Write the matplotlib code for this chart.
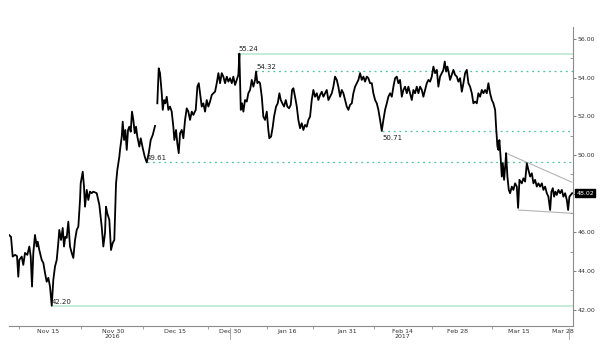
import numpy as np
import matplotlib
matplotlib.use("Agg")
import matplotlib.pyplot as plt

# trading-day position and price
day = [0.00, 0.36, 0.66, 1.07, 1.43, 1.66, 1.84, 2.27, 2.55, 2.86, 3.27, 3.63, 3.88, 4.11, 4.34, 4.64,
       4.95, 5.13, 5.41, 5.84, 6.13, 6.43, 6.73, 7.02, 7.32, 7.63, 7.91, 8.21, 8.52, 8.80, 8.98, 9.29,
       9.59, 9.82, 10.05, 10.30, 10.59, 10.89, 11.20, 11.48, 11.79, 12.09, 12.38, 12.68, 12.80, 13.16,
       13.39, 13.57, 13.88, 14.16, 14.46, 14.77, 15.05, 15.66, 16.13, 16.55, 16.84, 17.14, 17.32, 17.55,
       17.91, 18.21, 18.52, 18.80, 19.11, 19.34, 19.70, 19.82, 20.13, 20.30, 20.54, 20.77, 21.02, 21.25,
       21.48, 21.73, 21.96, 22.20, 22.45, 22.68, 22.91, 23.27, 23.52, 23.88, 24.23, 24.59, 24.95, 25.30,
       25.66, 26.07, 26.30,
       26.48, 26.73, 26.96, 27.27, 27.45, 27.68, 27.91, 28.16, 28.45, 28.75, 29.05, 29.34, 29.52, 29.82,
       30.05, 30.30, 30.54, 30.84, 31.13, 31.43, 31.73, 32.02, 32.32, 32.63, 32.91, 33.34, 33.63, 33.88,
       34.11, 34.41, 34.70, 35.00, 35.30, 35.59, 35.89, 36.20, 36.48, 36.79, 37.09, 37.38, 37.68, 37.98,
       38.27, 38.57, 38.88, 39.16, 39.46, 39.77, 40.05, 40.36, 40.66, 40.95, 41.13, 41.25, 41.38, 41.61,
       41.84, 42.14, 42.45, 42.73, 43.04, 43.34, 43.63, 43.93, 44.11, 44.34, 44.59, 44.82, 45.13, 45.41,
       45.71, 46.02, 46.30, 46.48, 46.79, 47.09, 47.32, 47.68, 47.98, 48.27, 48.52, 48.80, 49.11, 49.41,
       49.70, 50.00, 50.30, 50.54, 50.77, 51.07, 51.38, 51.66, 51.96, 52.27, 52.55, 52.86, 53.16, 53.45,
       53.75, 54.05, 54.34, 54.64, 54.95, 55.23, 55.54, 55.84, 56.13, 56.43, 56.73, 57.02, 57.32, 57.63,
       57.91, 58.21, 58.52, 58.80, 59.11, 59.41, 59.70, 60.00, 60.30, 60.59, 60.89, 61.20, 61.48, 61.79,
       62.09, 62.38, 62.68, 62.98, 63.27, 63.57, 63.88, 64.16, 64.46, 64.77, 65.05, 65.36, 65.66, 65.95,
       66.25, 66.55, 66.84, 67.14, 67.45, 67.73, 68.04, 68.34, 68.63, 68.93, 69.23, 69.52, 69.82, 70.13,
       70.41, 70.71, 71.02, 71.30, 71.61, 71.91, 72.20, 72.50, 72.80, 73.09, 73.39, 73.70, 73.98, 74.29,
       74.59, 74.88, 75.18, 75.48, 75.77, 76.07, 76.38, 76.66, 76.96, 77.27, 77.55, 77.80, 78.04, 78.27,
       78.52, 78.75, 79.05, 79.34, 79.64, 79.95, 80.23, 80.54, 80.84, 81.13, 81.43, 81.73, 82.02, 82.32,
       82.63, 82.91, 83.21, 83.52, 83.80, 84.11, 84.41, 84.70, 85.00, 85.30, 85.59, 85.89, 86.20, 86.48,
       86.79, 86.96, 87.20, 87.38, 87.55, 87.80, 87.98, 88.16, 88.39, 88.63, 88.75, 88.98, 89.23, 89.46,
       89.77, 90.05, 90.36, 90.66, 90.89, 91.13, 91.55, 91.84, 92.14, 92.45, 92.73, 93.04, 93.34, 93.63,
       93.93, 94.23, 94.52, 94.82, 95.13, 95.41, 95.71, 96.02, 96.30, 96.61, 96.84, 97.09, 97.32, 97.55,
       97.80, 98.09, 98.39, 98.70, 98.98, 99.29, 99.59, 99.82, 100.05, 100.30, 100.54]

price = [45.86, 45.76, 44.74, 44.83, 44.77, 43.70, 44.57, 44.74, 44.31, 44.93, 44.83, 45.26, 44.74, 43.19, 44.93, 45.86,
         45.26, 45.51, 45.08, 44.57, 44.41, 43.89, 43.44, 43.64, 43.19, 42.20, 43.53, 44.22, 44.57, 45.45, 46.12, 45.60,
         46.22, 45.26, 45.77, 45.71, 46.55, 45.26, 44.93, 44.67, 45.60, 46.12, 46.29, 47.67, 48.53, 49.13,
         48.36, 47.32, 48.19, 47.67, 48.10, 48.02, 48.10, 48.02, 47.41, 46.29, 45.26, 45.96, 47.32, 46.98,
         46.64, 45.08, 45.45, 45.60, 48.53, 49.22, 49.91, 50.26, 50.95, 51.72, 50.77, 51.29, 50.26, 51.29,
         51.46, 51.20, 52.24, 51.81, 51.12, 51.46, 50.95, 50.43, 50.86, 50.35, 49.91, 49.61, 50.09, 50.77,
         51.03, 51.50, np.nan,
         52.67, 54.48, 54.23, 53.19, 52.33, 52.84, 52.67, 53.01, 52.33, 52.50, 52.24, 51.46, 50.77, 51.29,
         50.60, 50.09, 51.12, 51.29, 50.86, 51.81, 52.41, 52.24, 51.81, 52.24, 52.07, 52.33, 53.53, 53.71,
         53.19, 52.50, 52.67, 52.24, 52.84, 52.50, 52.76, 53.10, 53.19, 53.27, 53.71, 54.23, 53.71, 54.23,
         54.05, 53.71, 54.05, 53.79, 53.97, 53.71, 54.05, 53.62, 53.88, 54.14, 55.24, 53.88, 52.33, 52.67,
         52.24, 52.84, 52.76, 53.19, 53.36, 53.88, 53.53, 53.88, 54.32, 53.71, 53.79, 53.71, 53.01, 51.98,
         51.81, 52.24, 51.29, 50.86, 50.95, 51.46, 51.98, 52.50, 52.67, 53.19, 52.84, 52.67, 52.50, 52.84,
         52.50, 52.41, 52.59, 53.36, 53.45, 53.01, 52.50, 51.81, 51.38, 51.64, 51.29, 51.55, 51.46, 51.81,
         51.98, 52.84, 53.36, 53.01, 53.19, 52.84, 53.10, 53.27, 53.01, 53.19, 53.36, 52.84, 53.01, 53.19,
         53.53, 54.05, 53.88, 53.53, 53.01, 53.36, 53.19, 52.84, 52.50, 52.33, 52.59, 52.67, 53.19, 53.53,
         53.71, 53.88, 54.23, 53.88, 54.05, 53.79, 54.05, 53.97, 53.71, 53.71, 53.19, 52.84, 52.67, 52.33,
         51.81, 51.24, 51.81, 52.33, 52.67, 53.01, 53.19, 53.01, 53.53, 53.97, 54.05, 53.71, 53.88, 53.01,
         53.36, 53.53, 53.19, 53.53, 53.19, 52.84, 53.36, 53.19, 53.53, 53.19, 53.53, 53.36, 53.01, 53.36,
         53.71, 53.88, 53.79, 54.05, 54.57, 54.23, 54.40, 53.53, 54.05, 54.23, 54.40, 54.83, 54.31, 54.57,
         54.23, 53.88, 54.14, 54.40, 54.14, 54.05, 53.79, 53.97, 53.27, 53.71, 54.23, 54.40, 53.71, 53.53,
         53.19, 52.67, 52.76, 52.67, 53.19, 53.01, 53.36, 53.19, 53.36, 53.19, 53.71, 53.19, 52.84, 52.67,
         52.33, 51.46, 50.43, 50.26, 50.77, 49.74, 48.88, 49.57, 48.71, 49.57, 50.09, 48.88, 48.19, 48.02,
         48.36, 48.19, 48.53, 48.36, 47.26, 48.71, 48.53, 48.79, 48.62, 49.57, 49.22, 48.88, 49.05, 48.53,
         48.71, 48.36, 48.53, 48.36, 48.53, 48.19, 48.36, 48.02, 47.84, 47.15, 48.10, 48.28, 47.84, 48.10,
         47.93, 48.19, 48.02, 48.19, 47.84, 48.02, 47.67, 47.15, 47.84, 47.93, 48.02]

# horizontal levels: (value, start day, label, style)
level_vals = [55.24, 54.32, 51.24, 49.61, 42.20]
level_start = [40.9, 44.1, 66.6, 24.6, 7.7]
level_text = ["55.24", "54.32", "50.71", "49.61", "42.20"]

# wedge trendlines
upper_x = [88.75, 100.48]
upper_y = [50.09, 48.59]
lower_x = [90.95, 100.48]
lower_y = [47.15, 46.98]

tick_days = [6.96, 18.52, 29.59, 39.46, 49.59, 60.3, 70.3, 80.0, 91.07, 98.8]
tick_labels = ["Nov 15", "Nov 30\n2016", "Dec 15", "Dec 30", "Jan 16", "Jan 31",
               "Feb 14\n2017", "Feb 28", "Mar 15", "Mar 28"]
minor_days = [1.8, 12.9, 23.9, 35.5, 46.1, 54.3, 65.2, 75.5, 86.2]
year_marks = [39.46, 100.0]
last = 48.02

fig = plt.figure(figsize=(6, 3.56), dpi=100)
ax = fig.add_axes([0.015, 0.0843, 0.9397, 0.84])

green = "#4cc795"
mint = "#b5e6cf"

for v, s, t in zip(level_vals, level_start, level_text):
    if t in ("55.24", "42.20"):
        ax.plot([s, 100.66], [v, v], color=mint, lw=1.1, zorder=1)
    else:
        ax.plot([s, 100.66], [v, v], color=green, lw=0.9, ls=(0, (1.5, 3)), zorder=1)

ax.plot(upper_x, upper_y, color="#b4b4b4", lw=0.8, zorder=1)
ax.plot(lower_x, lower_y, color="#b4b4b4", lw=0.8, zorder=1)
ax.plot(day, price, color="black", lw=1.3, zorder=3)

lab = dict(fontsize=5, color="#222222", zorder=4)
ax.text(40.9, 55.3, "55.24", ha="left", va="bottom", **lab)
ax.text(44.1, 54.38, "54.32", ha="left", va="bottom", **lab)
ax.text(66.6, 51.05, "50.71", ha="left", va="top", **lab)
ax.text(24.6, 49.66, "49.61", ha="left", va="bottom", **lab)
ax.text(7.7, 42.26, "42.20", ha="left", va="bottom", **lab)

ax.set_xlim(0, 100.66)
ax.set_ylim(41.15, 56.62)

for sp in ["left", "top"]:
    ax.spines[sp].set_visible(False)
for sp in ["right", "bottom"]:
    ax.spines[sp].set_color("#8c8c8c")
    ax.spines[sp].set_linewidth(0.8)

ax.yaxis.tick_right()
ax.set_yticks(np.arange(42, 57, 2))
ax.set_yticklabels([f"{v:.2f}" for v in np.arange(42, 57, 2)])
ax.set_yticks(np.arange(43, 57, 2), minor=True)
ax.tick_params(axis="y", which="major", length=2, width=0.6, color="#666666",
               labelsize=4.5, labelcolor="#333333", pad=1.5)
ax.tick_params(axis="y", which="minor", direction="in", length=2, width=0.6, color="#8c8c8c")

ax.set_xticks(tick_days)
ax.set_xticklabels(tick_labels, linespacing=0.95)
ax.set_xticks(minor_days, minor=True)
ax.tick_params(axis="x", which="major", length=0, labelsize=4.5, labelcolor="#333333", pad=2)
ax.tick_params(axis="x", which="minor", length=2, width=0.6, color="#8c8c8c")

for m in year_marks:
    ax.axvline(m, ymin=-0.045, ymax=-0.006, color="#8c8c8c", lw=0.5, clip_on=False)

ax.annotate(f"{last:.2f}", xy=(1.006, last), xycoords=("axes fraction", "data"),
            ha="left", va="center", fontsize=4.5, color="white",
            bbox=dict(boxstyle="square,pad=0.2", fc="black", ec="black"))

fig.savefig("out.png", dpi=100)
